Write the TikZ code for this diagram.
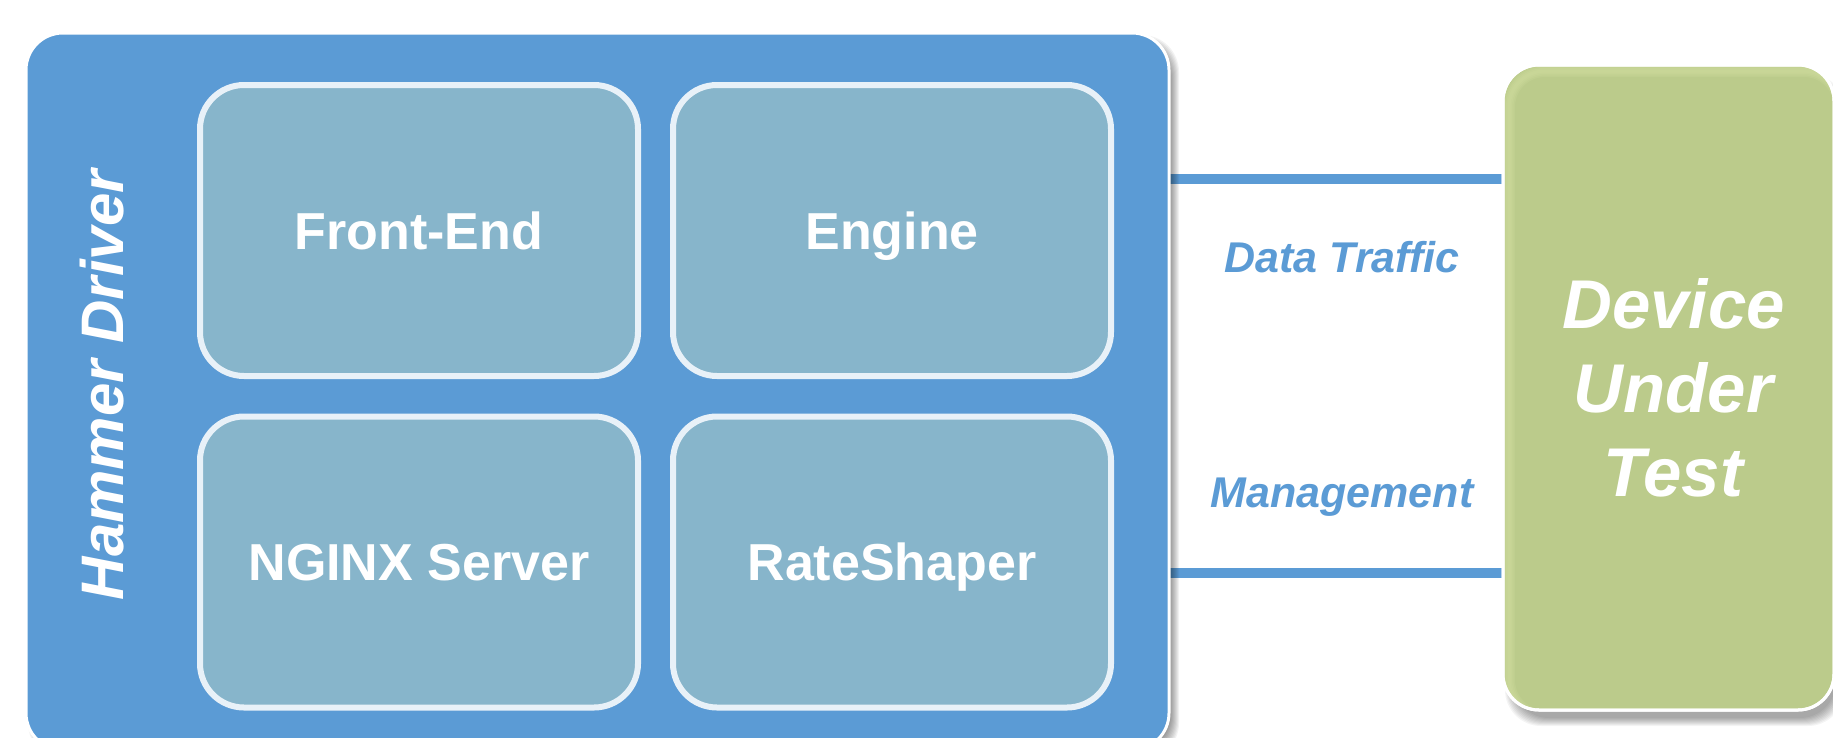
\documentclass[tikz,border=0pt]{standalone}
\usepackage{fontspec}
\setmainfont{Liberation Sans}
\usetikzlibrary{calc}

\definecolor{hdblue}{HTML}{5B9BD5}
\definecolor{modfill}{HTML}{87B5CB}
\definecolor{modedge}{HTML}{E8F1F8}
\definecolor{dutgreen}{HTML}{BBCB8B}
\definecolor{dutglow}{HTML}{D6E2A4}

\pgfdeclarelayer{links}
\pgfdeclarelayer{shade}
\pgfsetlayers{links,shade,main}

\tikzset{
  driverbox/.style={draw=white, line width=3pt, fill=hdblue, rounded corners=37pt,
    minimum width=1143pt, minimum height=717pt, inner sep=0pt, outer sep=0pt},
  modbox/.style={draw=modedge, line width=6pt, fill=modfill, rounded corners=44pt,
    minimum width=438pt, minimum height=291pt, inner sep=0pt, outer sep=0pt,
    text=white, text height=37pt, text depth=0pt,
    font=\fontsize{52}{62}\selectfont\bfseries},
  dutbox/.style={draw=white, line width=3pt, fill=dutgreen, rounded corners=36pt,
    minimum width=331pt, minimum height=645pt, inner sep=0pt, outer sep=0pt},
  dutlabel/.style={text=white, align=center, inner sep=0pt,
    font=\fontsize{69}{84}\selectfont\bfseries\itshape},
  sidelabel/.style={text=white, rotate=90, anchor=base, inner sep=0pt,
    font=\fontsize{60}{70}\selectfont\bfseries\itshape},
  link/.style={draw=hdblue, line width=10pt},
  linklabel/.style={text=hdblue, inner sep=0pt, anchor=base,
    font=\fontsize{43}{50}\selectfont\bfseries\itshape},
}

\begin{document}
\begin{tikzpicture}[x=1pt,y=-1pt]
\useasboundingbox (0,0) rectangle (1833,737);
\clip (0,0) rectangle (1833,737);

% Hammer Driver enclosure and its four modules
\node[driverbox] (hd) at (597.5,391.5) {};
\node[sidelabel] (hdname) at (123,385) {Hammer Driver};
\node[modbox] (fe) at (419,230.5) {Front-End};
\node[modbox] (eng) at (892,230.5) {Engine};
\node[modbox] (ngx) at (419,562) {NGINX Server};
\node[modbox] (rs) at (892,562) {RateShaper};

% Device under test
\node[dutbox] (dut) at (1668.5,387.5) {};
\begin{scope}
  \clip[rounded corners=36pt] (dut.north west) rectangle (dut.south east);
  \foreach \w in {3,6,9,12}
    \draw[dutglow, opacity=.18, line width=\w pt, rounded corners=36pt]
      ([shift={(6,6)}]dut.north west) rectangle ([shift={(6,6)}]dut.south east);
\end{scope}
\draw[white, line width=3pt, rounded corners=36pt] (dut.north west) rectangle (dut.south east);
\node[dutlabel] (dutname) at ([xshift=5pt]dut.center) {Device\\Under\\Test};

% Soft shadows behind both enclosures
\begin{pgfonlayer}{shade}
  \foreach \k in {0,...,8}
    \fill[black, opacity=.05, rounded corners=37pt]
      ([shift={(10-\k,10-\k)}]hd.north west) rectangle ([shift={(2+\k,2+\k)}]hd.south east);
  \foreach \k in {0,...,8}
    \fill[black, opacity=.045, rounded corners=36pt]
      ([shift={(10-\k,16-\k)}]dut.north west) rectangle ([shift={(2+\k,8+\k)}]dut.south east);
\end{pgfonlayer}

% Links between driver and device, over a white page
\coordinate (dty) at (0,179);
\coordinate (mgy) at (0,573);
\begin{pgfonlayer}{links}
  \fill[white] (0,0) rectangle (1833,737);
  \draw[link] (hd.east |- dty) -- (dut.west |- dty);
  \draw[link] (hd.east |- mgy) -- (dut.west |- mgy);
\end{pgfonlayer}
\node[linklabel] (dtlabel) at (1342,272) {Data Traffic};
\node[linklabel] (mglabel) at (1342,507) {Management};
\end{tikzpicture}
\end{document}
